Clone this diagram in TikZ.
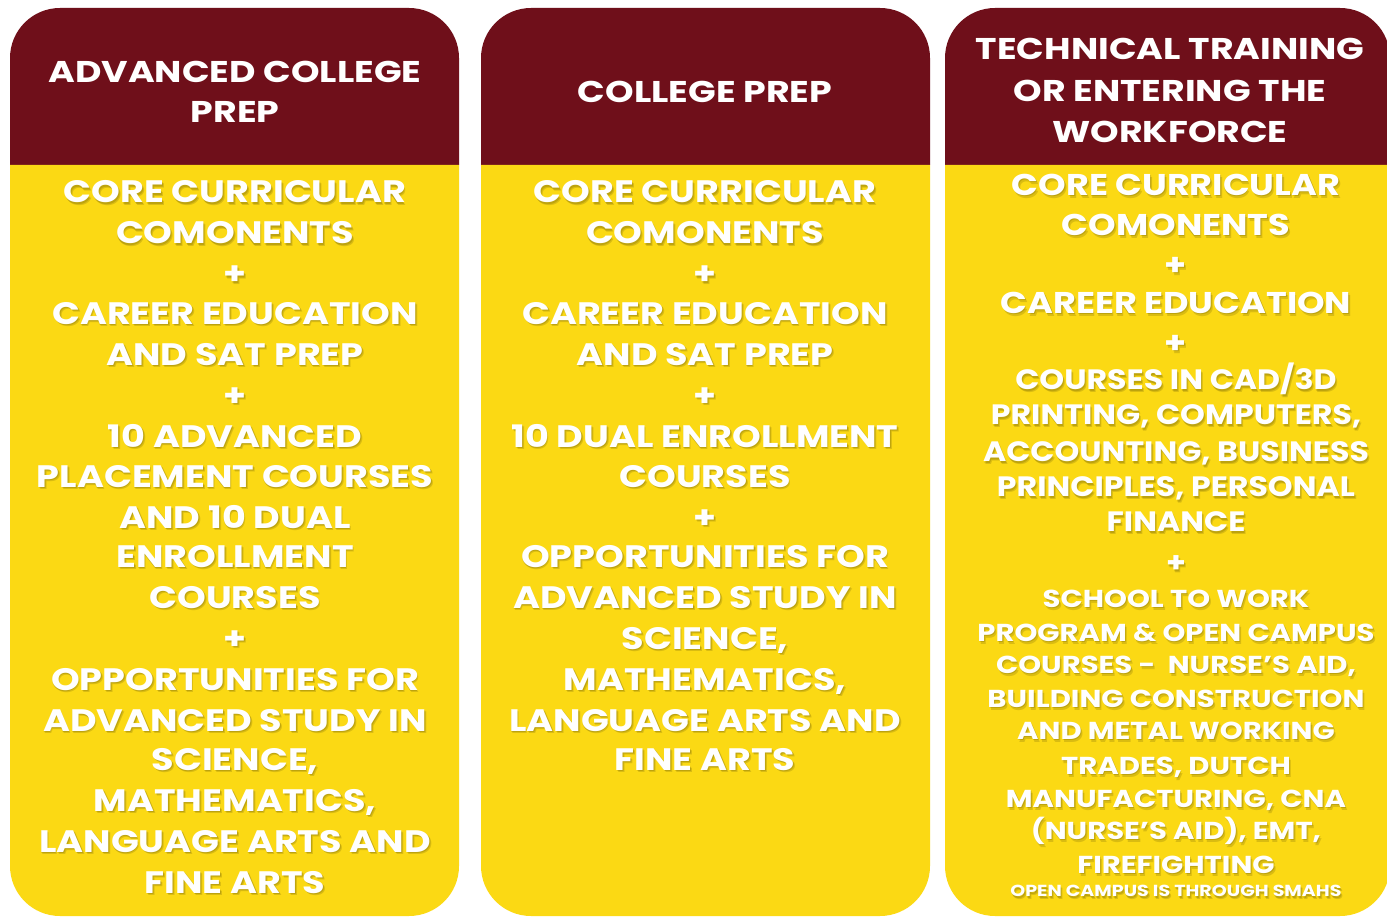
\documentclass[tikz,border=0pt]{standalone}
\usepackage{fontspec}
\setmainfont{Poppins}
\definecolor{maroon}{HTML}{6F0F1A}
\definecolor{gold}{HTML}{FBD914}
\newcommand\Ln[5]{%
  \node[#4, shtext, xshift=0.8pt, yshift=-1.4pt] (#1s) at (#2,-#3) {#5};
  \node[#4, shtext, xshift=1.8pt, yshift=-2.6pt] (#1t) at (#2,-#3) {#5};
  \node[#4] (#1) at (#2,-#3) {#5};}
\newcommand\Hd[5]{\node[#4] (#1) at (#2,-#3) {#5};}
\newcommand\fnt[2]{\fontsize{#1}{#1}\selectfont\bfseries\addfontfeatures{FakeStretch=#2}}
\tikzset{
  x=1pt, y=1pt,
  txt/.style={text=white, inner sep=0pt, anchor=base},
  hdr/.style={txt, font=\fnt{30}{1.21}, yshift=-10.5pt},
  bod/.style={txt, font=\fnt{31}{1.18}, yshift=-11pt},
  bodc/.style={txt, font=\fnt{30}{1.17}, yshift=-10.5pt},
  smal/.style={txt, font=\fnt{28}{1.13}, yshift=-9.8pt},
  smaller/.style={txt, font=\fnt{24.5}{1.19}, yshift=-8.5pt},
  tiny/.style={txt, font=\fnt{16}{1.19}, yshift=-5.7pt},
  shtext/.style={text=black, text opacity=0.13},
}
\newcommand\Col[3]{%
  \fill[maroon] (#1,-165) -- (#1,-58) arc[start angle=180,end angle=90,radius=50pt] -- (#2-50,-8) arc[start angle=90,end angle=0,radius=50pt] -- (#2,-165) -- cycle;
  \fill[gold] (#1,-165) -- (#1,-#3+50) arc[start angle=180,end angle=270,radius=50pt] -- (#2-50,-#3) arc[start angle=270,end angle=360,radius=50pt] -- (#2,-165) -- cycle;}
\begin{document}
\begin{tikzpicture}
\useasboundingbox (0,0) rectangle (1387,-917);
\fill[white] (0,0) rectangle (1387,-917);
\Col{10}{459}{916}
\Col{481}{930}{916}
\Col{945}{1390}{916}
% column 1
\Hd{a1}{235}{72}{hdr}{ADVANCED COLLEGE}
\Hd{a2}{235}{112}{hdr}{PREP}
\Ln{a3}{235}{192}{bod}{CORE CURRICULAR}
\Ln{a4}{235}{233}{bod}{COMONENTS}
\Ln{a5}{235}{274}{bod}{+}
\Ln{a6}{235}{313}{bod}{CAREER EDUCATION}
\Ln{a7}{235}{354}{bod}{AND SAT PREP}
\Ln{a8}{235}{395}{bod}{+}
\Ln{a9}{235}{436}{bod}{10 ADVANCED}
\Ln{a10}{235}{476}{bod}{PLACEMENT COURSES}
\Ln{a11}{235}{517}{bod}{AND 10 DUAL}
\Ln{a12}{235}{556}{bod}{ENROLLMENT}
\Ln{a13}{235}{597}{bod}{COURSES}
\Ln{a14}{235}{638}{bod}{+}
\Ln{a15}{235}{679}{bod}{OPPORTUNITIES FOR}
\Ln{a16}{235}{720}{bod}{ADVANCED STUDY IN}
\Ln{a17}{235}{759}{bod}{SCIENCE,}
\Ln{a18}{235}{800}{bod}{MATHEMATICS,}
\Ln{a19}{235}{841}{bod}{LANGUAGE ARTS AND}
\Ln{a20}{235}{882}{bod}{FINE ARTS}
% column 2
\Hd{b1}{705}{92}{hdr}{COLLEGE PREP}
\Ln{b3}{705}{192}{bod}{CORE CURRICULAR}
\Ln{b4}{705}{233}{bod}{COMONENTS}
\Ln{b5}{705}{274}{bod}{+}
\Ln{b6}{705}{313}{bod}{CAREER EDUCATION}
\Ln{b7}{705}{354}{bod}{AND SAT PREP}
\Ln{b8}{705}{395}{bod}{+}
\Ln{b9}{705}{436}{bod}{10 DUAL ENROLLMENT}
\Ln{b10}{705}{476}{bod}{COURSES}
\Ln{b11}{705}{517}{bod}{+}
\Ln{b12}{705}{556}{bod}{OPPORTUNITIES FOR}
\Ln{b13}{705}{597}{bod}{ADVANCED STUDY IN}
\Ln{b14}{705}{638}{bod}{SCIENCE,}
\Ln{b15}{705}{679}{bod}{MATHEMATICS,}
\Ln{b16}{705}{720}{bod}{LANGUAGE ARTS AND}
\Ln{b17}{705}{759}{bod}{FINE ARTS}
% column 3
\Hd{c1}{1170}{49}{hdr}{TECHNICAL TRAINING}
\Hd{c2}{1170}{91}{hdr}{OR ENTERING THE}
\Hd{c3}{1170}{132}{hdr}{WORKFORCE}
\Ln{c4}{1176}{185}{bodc}{CORE CURRICULAR}
\Ln{c5}{1176}{225}{bodc}{COMONENTS}
\Ln{c6}{1176}{265}{bodc}{+}
\Ln{c7}{1176}{303}{bodc}{CAREER EDUCATION}
\Ln{c8}{1176}{343}{bodc}{+}
\Ln{c9}{1176}{380}{smal}{COURSES IN CAD/3D}
\Ln{c10}{1176}{415}{smal}{PRINTING, COMPUTERS,}
\Ln{c11}{1176}{452}{smal}{ACCOUNTING, BUSINESS}
\Ln{c12}{1176}{487}{smal}{PRINCIPLES, PERSONAL}
\Ln{c13}{1176}{522}{smal}{FINANCE}
\Ln{c14}{1176}{563}{smal}{+}
\Ln{c15}{1176}{599}{smaller}{SCHOOL TO WORK}
\Ln{c16}{1176}{633}{smaller}{PROGRAM \& OPEN CAMPUS}
\Ln{c17}{1176}{665}{smaller}{COURSES -\ \ NURSE’S AID,}
\Ln{c18}{1176}{699}{smaller}{BUILDING CONSTRUCTION}
\Ln{c19}{1176}{731}{smaller}{AND METAL WORKING}
\Ln{c20}{1176}{766}{smaller}{TRADES, DUTCH}
\Ln{c21}{1176}{799}{smaller}{MANUFACTURING, CNA}
\Ln{c22}{1176}{831}{smaller}{(NURSE’S AID), EMT,}
\Ln{c23}{1176}{865}{smaller}{FIREFIGHTING}
\Ln{c24}{1176}{891}{tiny}{OPEN CAMPUS IS THROUGH SMAHS}
\end{tikzpicture}
\end{document}
